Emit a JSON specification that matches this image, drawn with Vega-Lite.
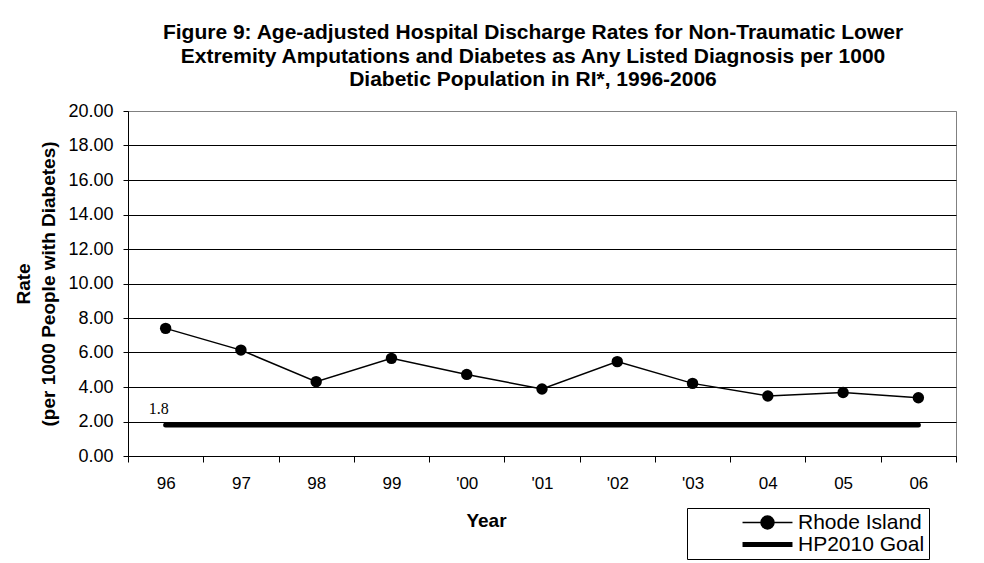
{
  "$schema": "https://vega.github.io/schema/vega-lite/v6.json",
  "width": 828,
  "height": 345,
  "autosize": {"type": "none"},
  "padding": {"left": 128, "top": 111, "right": 28, "bottom": 107},
  "background": "white",
  "config": {
    "view": {"stroke": "#808080", "strokeWidth": 1},
    "font": "Liberation Sans"
  },
  "title": {
    "text": [
      "Figure 9: Age-adjusted Hospital Discharge Rates for Non-Traumatic Lower",
      "Extremity Amputations and Diabetes as Any Listed Diagnosis per 1000",
      "Diabetic Population in RI*, 1996-2006"
    ],
    "font": "Liberation Sans",
    "fontSize": 21,
    "fontWeight": "bold",
    "lineHeight": 23.5,
    "anchor": "middle",
    "frame": "group",
    "offset": 12,
    "dx": -9,
    "color": "black"
  },
  "data": {
    "values": [
      {"year": "96", "series": "Rhode Island", "value": 7.40},
      {"year": "97", "series": "Rhode Island", "value": 6.14},
      {"year": "98", "series": "Rhode Island", "value": 4.31},
      {"year": "99", "series": "Rhode Island", "value": 5.66},
      {"year": "'00", "series": "Rhode Island", "value": 4.73},
      {"year": "'01", "series": "Rhode Island", "value": 3.88},
      {"year": "'02", "series": "Rhode Island", "value": 5.47},
      {"year": "'03", "series": "Rhode Island", "value": 4.21},
      {"year": "04", "series": "Rhode Island", "value": 3.48},
      {"year": "05", "series": "Rhode Island", "value": 3.68},
      {"year": "06", "series": "Rhode Island", "value": 3.38},
      {"year": "96", "series": "HP2010 Goal", "value": 1.8},
      {"year": "97", "series": "HP2010 Goal", "value": 1.8},
      {"year": "98", "series": "HP2010 Goal", "value": 1.8},
      {"year": "99", "series": "HP2010 Goal", "value": 1.8},
      {"year": "'00", "series": "HP2010 Goal", "value": 1.8},
      {"year": "'01", "series": "HP2010 Goal", "value": 1.8},
      {"year": "'02", "series": "HP2010 Goal", "value": 1.8},
      {"year": "'03", "series": "HP2010 Goal", "value": 1.8},
      {"year": "04", "series": "HP2010 Goal", "value": 1.8},
      {"year": "05", "series": "HP2010 Goal", "value": 1.8},
      {"year": "06", "series": "HP2010 Goal", "value": 1.8}
    ]
  },
  "encoding": {
    "x": {
      "field": "year",
      "type": "ordinal",
      "sort": ["96", "97", "98", "99", "'00", "'01", "'02", "'03", "04", "05", "06"],
      "scale": {"type": "band", "paddingInner": 0, "paddingOuter": 0},
      "axis": {
        "title": "Year",
        "labelAngle": 0,
        "tickBand": "extent",
        "tickSize": 6,
        "tickColor": "black",
        "domainColor": "black",
        "grid": false,
        "labelFont": "Liberation Sans",
        "labelFontSize": 17,
        "labelColor": "black",
        "labelPadding": 13,
        "titleFont": "Liberation Sans",
        "titleFontSize": 19,
        "titleFontWeight": "bold",
        "titleColor": "black",
        "titlePadding": 20,
        "titleX": 358
      }
    },
    "y": {
      "field": "value",
      "type": "quantitative",
      "scale": {"domain": [0, 20], "nice": false},
      "axis": {
        "values": [0, 2, 4, 6, 8, 10, 12, 14, 16, 18, 20],
        "format": ".2f",
        "grid": true,
        "gridColor": {"condition": {"test": "datum.value == 20", "value": "#808080"}, "value": "black"},
        "gridWidth": 1,
        "tickSize": 5,
        "tickColor": "black",
        "domainColor": "black",
        "labelFont": "Liberation Sans",
        "labelFontSize": 18,
        "labelColor": "black",
        "labelPadding": 10,
        "title": ["Rate", "(per 1000 People with Diabetes)"],
        "titleFont": "Liberation Sans",
        "titleFontSize": 19,
        "titleFontWeight": "bold",
        "titleColor": "black",
        "titleLineHeight": 25,
        "titlePadding": 9
      }
    }
  },
  "layer": [
    {
      "transform": [{"filter": "datum.series === 'Rhode Island'"}],
      "mark": {"type": "line", "strokeWidth": 1.5},
      "encoding": {
        "color": {
          "field": "series",
          "type": "nominal",
          "scale": {"domain": ["Rhode Island", "HP2010 Goal"], "range": ["black", "black"]},
          "legend": {
            "orient": "none",
            "legendX": 559,
            "legendY": 397,
            "title": null,
            "direction": "vertical",
            "padding": 4,
            "strokeColor": "black",
            "fillColor": "white",
            "symbolSize": 156,
            "symbolOffset": 66,
            "labelOffset": 20,
            "labelFont": "Liberation Sans",
            "labelFontSize": 21,
            "labelColor": "black",
            "labelLimit": 400,
            "rowPadding": 0,
            "encode": {
              "symbols": {
                "update": {
                  "shape": {"signal": "datum.value === 'Rhode Island' ? 'M-4,0H4M-1.04,0A1.04,1.04,0,1,0,1.04,0A1.04,1.04,0,1,0,-1.04,0Z' : 'M-4,0H4'"},
                  "fill": {"signal": "datum.value === 'Rhode Island' ? 'black' : 'transparent'"},
                  "stroke": {"value": "black"},
                  "strokeWidth": {"signal": "datum.value === 'Rhode Island' ? 1.5 : 5"}
                }
              }
            }
          }
        }
      }
    },
    {
      "transform": [{"filter": "datum.series === 'Rhode Island'"}],
      "mark": {"type": "point", "filled": true, "size": 130, "color": "black", "opacity": 1}
    },
    {
      "transform": [{"filter": "datum.series === 'HP2010 Goal'"}],
      "mark": {"type": "line", "strokeWidth": 5, "strokeCap": "round"},
      "encoding": {
        "color": {
          "field": "series",
          "type": "nominal",
          "scale": {"domain": ["Rhode Island", "HP2010 Goal"], "range": ["black", "black"]}
        }
      }
    },
    {
      "transform": [{"filter": "datum.series === 'HP2010 Goal' && datum.year === '96'"}],
      "mark": {"type": "text", "font": "Liberation Serif", "fontSize": 16, "dx": -7, "dy": -16, "color": "black"},
      "encoding": {
        "text": {"field": "value", "type": "quantitative", "format": ".1f"}
      }
    }
  ]
}
